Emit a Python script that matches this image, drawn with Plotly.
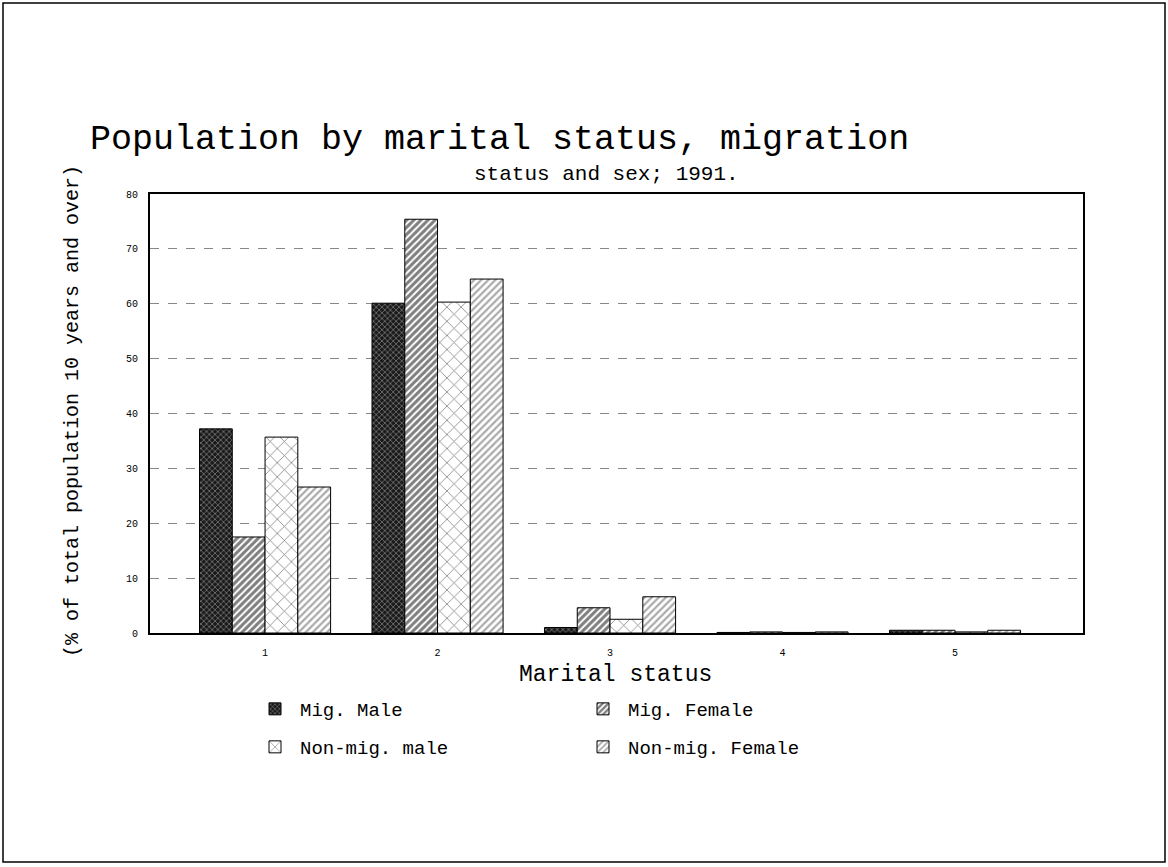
import plotly.graph_objects as go

categories = [1, 2, 3, 4, 5]
tick_labels = ["1", "2", "3", "4", "5"]
mig_male = [37.2, 60.1, 1.0, 0.1, 0.5]
mig_female = [17.5, 75.4, 4.6, 0.2, 0.5]
nonmig_male = [35.7, 60.3, 2.5, 0.1, 0.2]
nonmig_female = [26.6, 64.5, 6.6, 0.2, 0.5]
series_names = ["Mig. Male", "Mig. Female", "Non-mig. male", "Non-mig. Female"]

FONT = "Liberation Mono"

W, H = 1168, 867
L, R, T, B = 150, 1083, 194, 633
pw, ph = R - L, B - T

def px_x(px):
    return (px - L) / pw

def px_y(py):
    return (B - py) / ph

styles = [
    dict(shape="x", size=4, solidity=0.3, fgcolor="white", bgcolor="#1a1a1a"),
    dict(shape="/", size=5, solidity=0.6, fgcolor="black", bgcolor="white"),
    dict(shape="x", size=10, solidity=0.15, fgcolor="black", bgcolor="white"),
    dict(shape="/", size=5, solidity=0.45, fgcolor="#555555", bgcolor="white"),
]
legend_ids = ["legend", "legend2", "legend3", "legend4"]

fig = go.Figure()
for name, vals, st, lg in zip(series_names,
                              [mig_male, mig_female, nonmig_male, nonmig_female],
                              styles, legend_ids):
    fig.add_trace(go.Bar(
        x=categories, y=vals, name=name, legend=lg,
        marker=dict(color="white", pattern=st, line=dict(color="black", width=1)),
    ))

leg_common = dict(font=dict(family=FONT, size=19, color="black"),
                  bgcolor="rgba(0,0,0,0)", xanchor="left", yanchor="middle",
                  itemwidth=40)
fig.update_layout(
    legend=dict(x=px_x(250), y=px_y(709), **leg_common),
    legend2=dict(x=px_x(578), y=px_y(709), **leg_common),
    legend3=dict(x=px_x(250), y=px_y(747), **leg_common),
    legend4=dict(x=px_x(578), y=px_y(747), **leg_common),
)

fig.update_layout(
    width=W, height=H,
    margin=dict(l=L, r=W - R, t=T, b=H - B, autoexpand=False),
    paper_bgcolor="white", plot_bgcolor="white",
    barmode="group", bargap=0.24, bargroupgap=0,
    title=dict(text="Population by marital status, migration",
               x=90 / W, xanchor="left", xref="container",
               y=1 - 137 / H, yanchor="middle", yref="container",
               font=dict(family=FONT, size=35, color="black")),
    font=dict(family=FONT, color="black"),
    showlegend=True,
)

fig.update_xaxes(
    range=[0.333, 5.742], tickmode="array", tickvals=categories, ticktext=tick_labels,
    showgrid=False, zeroline=False,
    showline=True, linecolor="black", linewidth=2, mirror=True,
    ticks="outside", ticklen=9, tickcolor="white",
    tickfont=dict(family=FONT, size=10, color="black"),
)
fig.update_yaxes(
    range=[0, 80], dtick=10,
    showgrid=True, gridcolor="#888888", griddash="dash", gridwidth=1,
    zeroline=False,
    showline=True, linecolor="black", linewidth=2, mirror=True,
    ticks="outside", ticklen=8, tickcolor="white",
    tickfont=dict(family=FONT, size=10, color="black"),
)

fig.add_annotation(text="status and sex; 1991.", x=px_x(606), y=px_y(175),
                   xref="paper", yref="paper", showarrow=False,
                   xanchor="center", yanchor="middle",
                   font=dict(family=FONT, size=21, color="black"))
fig.add_annotation(text="(% of total population 10 years and over)",
                   x=px_x(72), y=px_y(411), xref="paper", yref="paper",
                   showarrow=False, textangle=-90,
                   xanchor="center", yanchor="middle",
                   font=dict(family=FONT, size=20, color="black"))
fig.add_annotation(text="Marital status", x=px_x(615), y=px_y(675),
                   xref="paper", yref="paper", showarrow=False,
                   xanchor="center", yanchor="middle",
                   font=dict(family=FONT, size=23, color="black"))

fig.add_shape(type="rect", xref="paper", yref="paper",
              x0=px_x(3), x1=px_x(1165), y0=px_y(862), y1=px_y(3),
              line=dict(color="black", width=1.5), fillcolor="rgba(0,0,0,0)")

fig.write_html("out.html", config={"displayModeBar": False},
               post_script="document.body.style.margin='0px';document.body.style.overflow='hidden';")
